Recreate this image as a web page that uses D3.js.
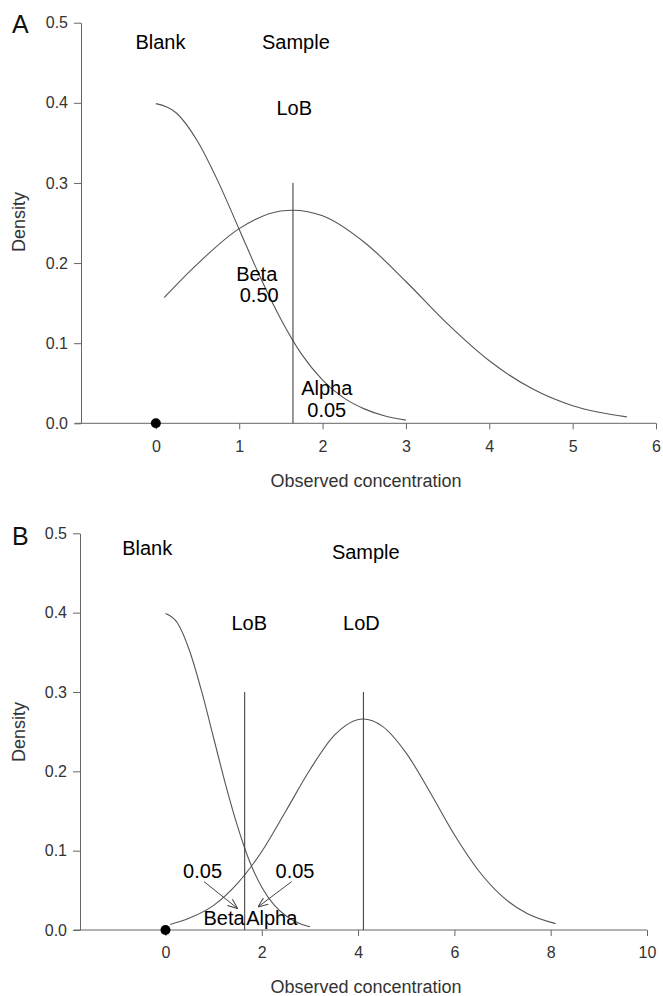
<!DOCTYPE html>
<meta charset="utf-8">
<title>LoB / LoD density plots</title>
<style>
body { margin: 0; background: #fff; }
text { font-family: "Liberation Sans", Arial, sans-serif; }
.tick text { fill: #333; font-size: 16px; }
.tick line, .domain { stroke: #666; }
</style>
<body>
<div id="chart"></div>
<script src="https://d3js.org/d3.v7.min.js"></script>
<script>

// blank distribution (same in both panels)
var blankX = [0, 0.25, 0.5, 0.75, 1, 1.25, 1.5, 1.75, 2, 2.25, 2.5, 2.75, 3];
var blankY = [0.399, 0.387, 0.352, 0.301, 0.242, 0.183, 0.130, 0.086, 0.054, 0.032, 0.018, 0.009, 0.004];

// sample distribution, panel A (centred on LoB)
var sampleAX = [0.1, 0.5, 1, 1.5, 1.645, 2, 2.5, 3, 3.5, 4, 4.5, 5, 5.3, 5.65];
var sampleAY = [0.157, 0.199, 0.243, 0.265, 0.266, 0.259, 0.226, 0.177, 0.124, 0.078, 0.044, 0.022, 0.014, 0.008];

// sample distribution, panel B (centred on LoD)
var sampleBX = [0.1, 0.5, 1, 1.5, 2, 2.5, 3, 3.5, 4.11, 4.5, 5, 5.5, 6, 6.5, 7, 7.5, 8.1];
var sampleBY = [0.007, 0.015, 0.031, 0.059, 0.099, 0.150, 0.202, 0.245, 0.266, 0.257, 0.223, 0.173, 0.120, 0.075, 0.042, 0.021, 0.008];

var LoB = 1.645, LoD = 4.11;
var yTicks = [0, 0.1, 0.2, 0.3, 0.4, 0.5];
var xTicksA = [0, 1, 2, 3, 4, 5, 6];
var xTicksB = [0, 2, 4, 6, 8, 10];

// text annotations (data units)
var labelsA = [
  {t: "Blank", x: 0.055, y: 0.467},
  {t: "Sample", x: 1.68, y: 0.467},
  {t: "LoB", x: 1.66, y: 0.385},
  {t: "Beta", x: 1.21, y: 0.178},
  {t: "0.50", x: 1.24, y: 0.151},
  {t: "Alpha", x: 2.05, y: 0.035},
  {t: "0.05", x: 2.05, y: 0.008}
];
var labelsB = [
  {t: "Blank", x: -0.38, y: 0.473},
  {t: "Sample", x: 4.16, y: 0.468},
  {t: "LoB", x: 1.74, y: 0.378},
  {t: "LoD", x: 4.07, y: 0.378},
  {t: "0.05", x: 0.77, y: 0.065},
  {t: "0.05", x: 2.69, y: 0.065},
  {t: "Beta", x: LoB, y: 0.006, anchor: "end"},
  {t: "Alpha", x: LoB + 0.03, y: 0.006, anchor: "start"}
];
var arrowsB = [
  {x1: 0.80, y1: 0.061, x2: 1.50, y2: 0.027},
  {x1: 2.62, y1: 0.061, x2: 1.92, y2: 0.029}
];

var W = 663, H = 996;
var svg = d3.select("#chart").append("svg")
  .attr("width", W).attr("height", H);

svg.append("defs").append("marker")
  .attr("id", "arr")
  .attr("viewBox", "0 0 10 10")
  .attr("refX", 10).attr("refY", 5)
  .attr("markerWidth", 10).attr("markerHeight", 10)
  .attr("markerUnits", "userSpaceOnUse")
  .attr("orient", "auto")
  .append("path")
    .attr("d", "M0,1 L10,5 L0,9")
    .attr("fill", "none")
    .attr("stroke", "#444")
    .attr("stroke-width", 1);

var panels = [
  {letter: "A", xDom: [-0.97, 6], xRange: [75, 656], yRange: [423.3, 22.7], yAxisX: 81,
   xTicks: xTicksA, sampleX: sampleAX, sampleY: sampleAY, vlines: [LoB],
   labels: labelsA, arrows: [], letterY: 33, titleY: 487, densityY: 222},
  {letter: "B", xDom: [-1.9, 10], xRange: [74, 647], yRange: [930, 533.3], yAxisX: 80,
   xTicks: xTicksB, sampleX: sampleBX, sampleY: sampleBY, vlines: [LoB, LoD],
   labels: labelsB, arrows: arrowsB, letterY: 545, titleY: 993, densityY: 732}
];

panels.forEach(function(p) {
  var x = d3.scaleLinear().domain(p.xDom).range(p.xRange);
  var y = d3.scaleLinear().domain([0, 0.5]).range(p.yRange);
  var g = svg.append("g");

  // axes
  g.append("g")
    .attr("transform", "translate(0," + y(0) + ")")
    .call(d3.axisBottom(x).tickValues(p.xTicks).tickSize(6).tickSizeOuter(0).tickPadding(11)
      .tickFormat(d3.format("d")))
    .call(function(a) { a.select(".domain").attr("d", "M" + p.xRange[0] + ",0H" + p.xRange[1]); });

  g.append("g")
    .attr("transform", "translate(" + p.yAxisX + ",0)")
    .call(d3.axisLeft(y).tickValues(yTicks).tickSize(7).tickSizeOuter(0).tickPadding(6)
      .tickFormat(d3.format(".1f")));

  // curves
  var line = d3.line()
    .x(function(d) { return x(d[0]); })
    .y(function(d) { return y(d[1]); })
    .curve(d3.curveMonotoneX);

  g.append("path")
    .attr("d", line(d3.zip(blankX, blankY)))
    .attr("fill", "none").attr("stroke", "#555").attr("stroke-width", 1.1);
  g.append("path")
    .attr("d", line(d3.zip(p.sampleX, p.sampleY)))
    .attr("fill", "none").attr("stroke", "#555").attr("stroke-width", 1.1);

  // LoB / LoD lines
  g.selectAll(".vl").data(p.vlines).enter().append("line")
    .attr("x1", function(d) { return x(d); }).attr("x2", function(d) { return x(d); })
    .attr("y1", y(0)).attr("y2", y(0.3))
    .attr("stroke", "#333").attr("stroke-width", 1);

  // point at origin
  g.append("circle")
    .attr("cx", x(0)).attr("cy", y(0)).attr("r", 5).attr("fill", "#000");

  // arrows
  g.selectAll(".arrow").data(p.arrows).enter().append("line")
    .attr("x1", function(d) { return x(d.x1); }).attr("y1", function(d) { return y(d.y1); })
    .attr("x2", function(d) { return x(d.x2); }).attr("y2", function(d) { return y(d.y2); })
    .attr("stroke", "#444").attr("stroke-width", 1)
    .attr("marker-end", "url(#arr)");

  // annotations
  g.selectAll(".lab").data(p.labels).enter().append("text")
    .attr("x", function(d) { return x(d.x); })
    .attr("y", function(d) { return y(d.y); })
    .attr("text-anchor", function(d) { return d.anchor || "middle"; })
    .style("font-size", "20px")
    .style("fill", "#000")
    .text(function(d) { return d.t; });

  // panel letter
  g.append("text")
    .attr("x", 12).attr("y", p.letterY)
    .style("font-size", "25px").style("fill", "#111")
    .text(p.letter);

  // axis titles
  g.append("text")
    .attr("x", 366)
    .attr("y", p.titleY)
    .attr("text-anchor", "middle")
    .style("font-size", "18px").style("fill", "#333")
    .text("Observed concentration");

  g.append("text")
    .attr("transform", "translate(25," + p.densityY + ") rotate(-90)")
    .attr("text-anchor", "middle")
    .style("font-size", "18px").style("fill", "#333")
    .text("Density");
});

</script>
